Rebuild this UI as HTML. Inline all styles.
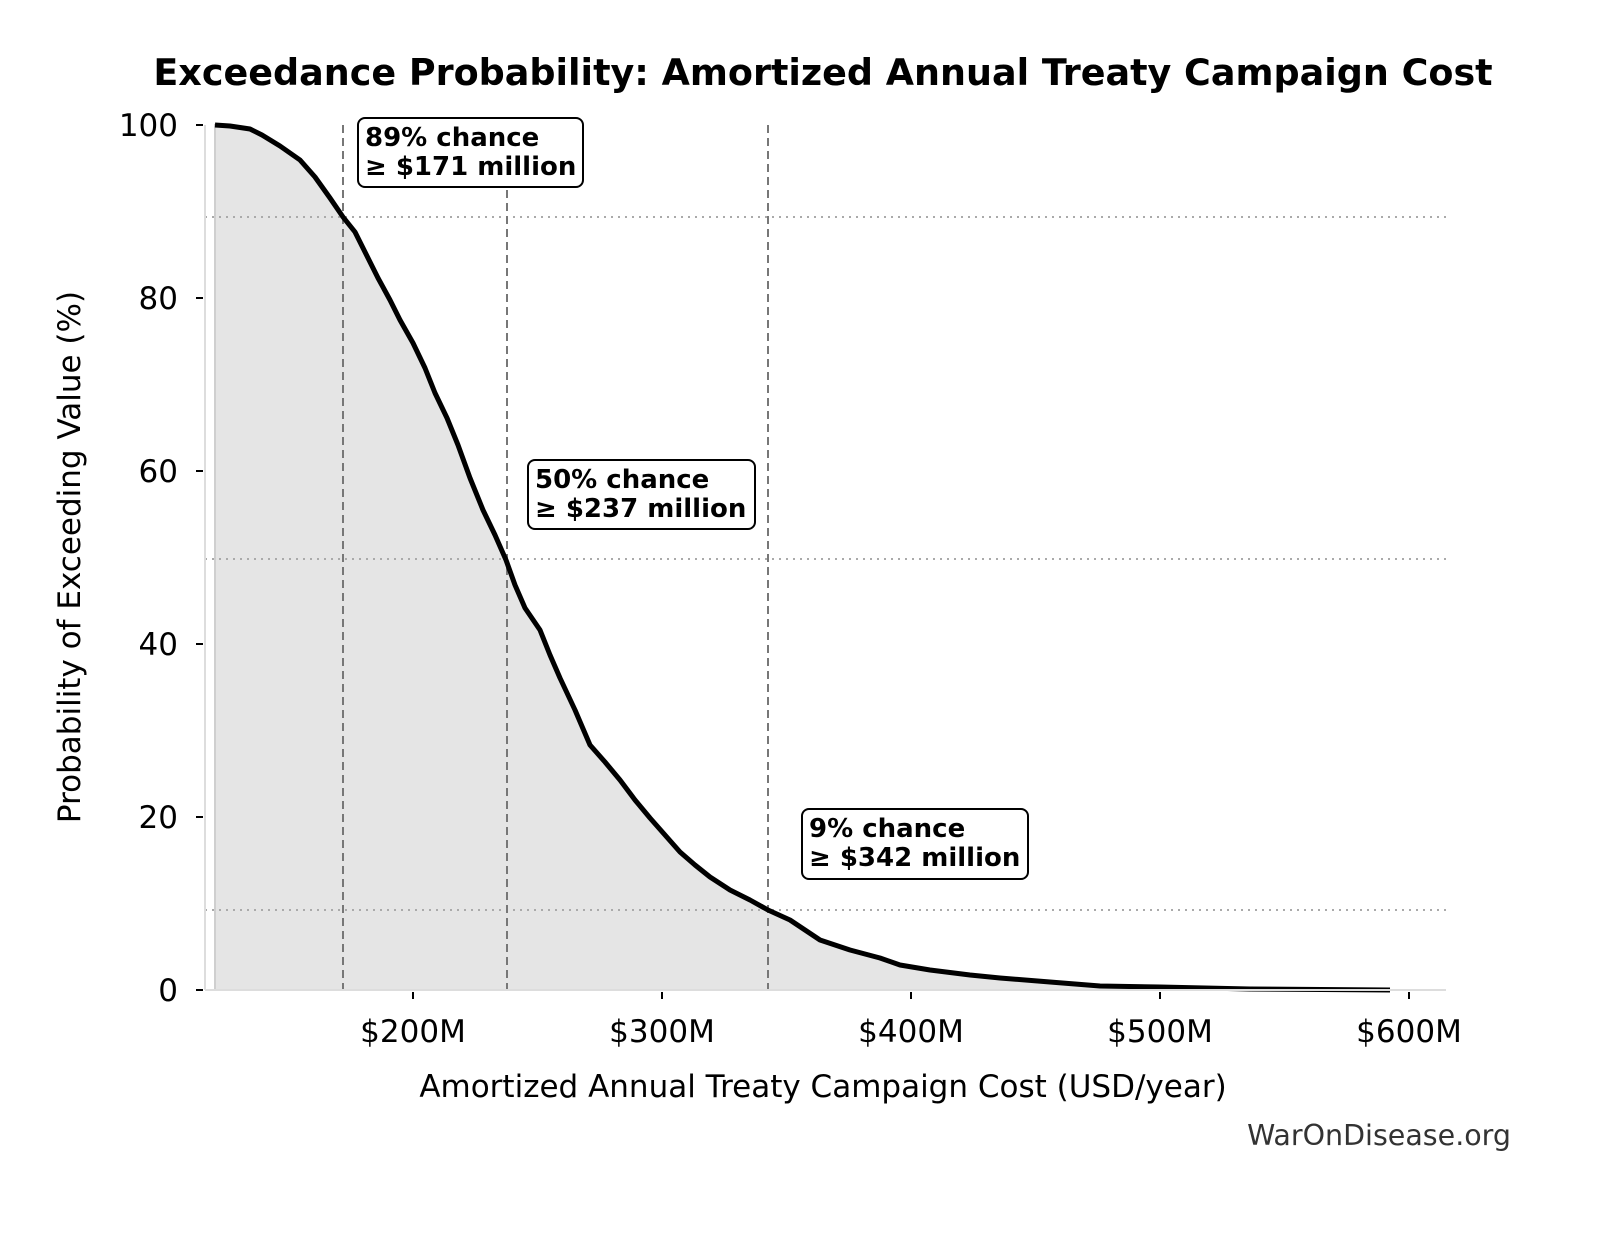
<!DOCTYPE html>
<html><head><meta charset="utf-8"><style>
body{margin:0;background:#fff}
svg text{font-family:"DejaVu Sans","Liberation Sans",sans-serif}
</style></head><body>
<svg width="1604" height="1234" viewBox="0 0 1604 1234" xmlns="http://www.w3.org/2000/svg">
<rect width="1604" height="1234" fill="#fff"/>
<text x="823" y="85" text-anchor="middle" font-size="36.5" font-weight="bold">Exceedance Probability: Amortized Annual Treaty Campaign Cost</text>
<polygon fill="#e5e5e5" stroke="#cfcfcf" stroke-width="2" points="215,990 215,125 230,126 250,129 262,135 280,146 300,160 315,177 330,198 343,217 355,232 365,252 378,278 390,300 400,320 413,343 425,368 435,393 447,418 458,445 470,478 483,510 495,535 506,560 515,585 525,608 540,630 550,655 560,678 575,710 590,745 605,762 620,780 635,800 650,818 665,835 680,852 695,865 710,877 730,890 750,900 768,910 790,920 820,940 850,950 880,958 900,965 930,970 970,975 1000,978 1050,982 1100,986 1160,987 1250,989 1390,990"/>
<g stroke="#aaa" stroke-width="2" stroke-dasharray="2,5">
<line x1="205" y1="217" x2="1446" y2="217"/>
<line x1="205" y1="559" x2="1446" y2="559"/>
<line x1="205" y1="910" x2="1446" y2="910"/>
</g>
<g stroke="#777" stroke-width="2" stroke-dasharray="8,5">
<line x1="343" y1="125" x2="343" y2="990"/>
<line x1="507" y1="125" x2="507" y2="990"/>
<line x1="768" y1="125" x2="768" y2="990"/>
</g>
<polyline fill="none" stroke="#000" stroke-width="5" stroke-linejoin="round" points="215,125 230,126 250,129 262,135 280,146 300,160 315,177 330,198 343,217 355,232 365,252 378,278 390,300 400,320 413,343 425,368 435,393 447,418 458,445 470,478 483,510 495,535 506,560 515,585 525,608 540,630 550,655 560,678 575,710 590,745 605,762 620,780 635,800 650,818 665,835 680,852 695,865 710,877 730,890 750,900 768,910 790,920 820,940 850,950 880,958 900,965 930,970 970,975 1000,978 1050,982 1100,986 1160,987 1250,989 1390,990"/>
<line x1="205" y1="125" x2="205" y2="990" stroke="#ddd" stroke-width="2"/>
<line x1="205" y1="990" x2="1446" y2="990" stroke="#ddd" stroke-width="2"/>
<g stroke="#000" stroke-width="2">
<line x1="196" y1="990" x2="203" y2="990"/><line x1="196" y1="817" x2="203" y2="817"/><line x1="196" y1="644" x2="203" y2="644"/><line x1="196" y1="471" x2="203" y2="471"/><line x1="196" y1="298" x2="203" y2="298"/><line x1="196" y1="125" x2="203" y2="125"/>
<line x1="413" y1="992" x2="413" y2="999"/><line x1="662" y1="992" x2="662" y2="999"/><line x1="911" y1="992" x2="911" y2="999"/><line x1="1160" y1="992" x2="1160" y2="999"/><line x1="1409" y1="992" x2="1409" y2="999"/>
</g>
<g font-size="31" text-anchor="end">
<text x="178" y="1001">0</text><text x="178" y="828">20</text><text x="178" y="655">40</text><text x="178" y="482">60</text><text x="178" y="309">80</text><text x="178" y="136">100</text>
</g>
<g font-size="31" text-anchor="middle">
<text x="413" y="1042">$200M</text><text x="662" y="1042">$300M</text><text x="911" y="1042">$400M</text><text x="1160" y="1042">$500M</text><text x="1409" y="1042">$600M</text>
<text x="823" y="1097">Amortized Annual Treaty Campaign Cost (USD/year)</text>
<text transform="translate(80,557) rotate(-90)">Probability of Exceeding Value (%)</text>
</g>
<text x="1511" y="1145" text-anchor="end" font-size="28.5" fill="#333">WarOnDisease.org</text>
<g font-size="26" font-weight="bold">
<rect x="358" y="118" width="225" height="69" rx="7" fill="#fff" stroke="#000" stroke-width="2"/>
<text x="365" y="146">89% chance</text><text x="365" y="175">≥ $171 million</text>
<rect x="528" y="460" width="227" height="69" rx="7" fill="#fff" stroke="#000" stroke-width="2"/>
<text x="535" y="488">50% chance</text><text x="535" y="517">≥ $237 million</text>
<rect x="802" y="809" width="226" height="70" rx="7" fill="#fff" stroke="#000" stroke-width="2"/>
<text x="809" y="837">9% chance</text><text x="809" y="866">≥ $342 million</text>
</g>
</svg>
</body></html>
